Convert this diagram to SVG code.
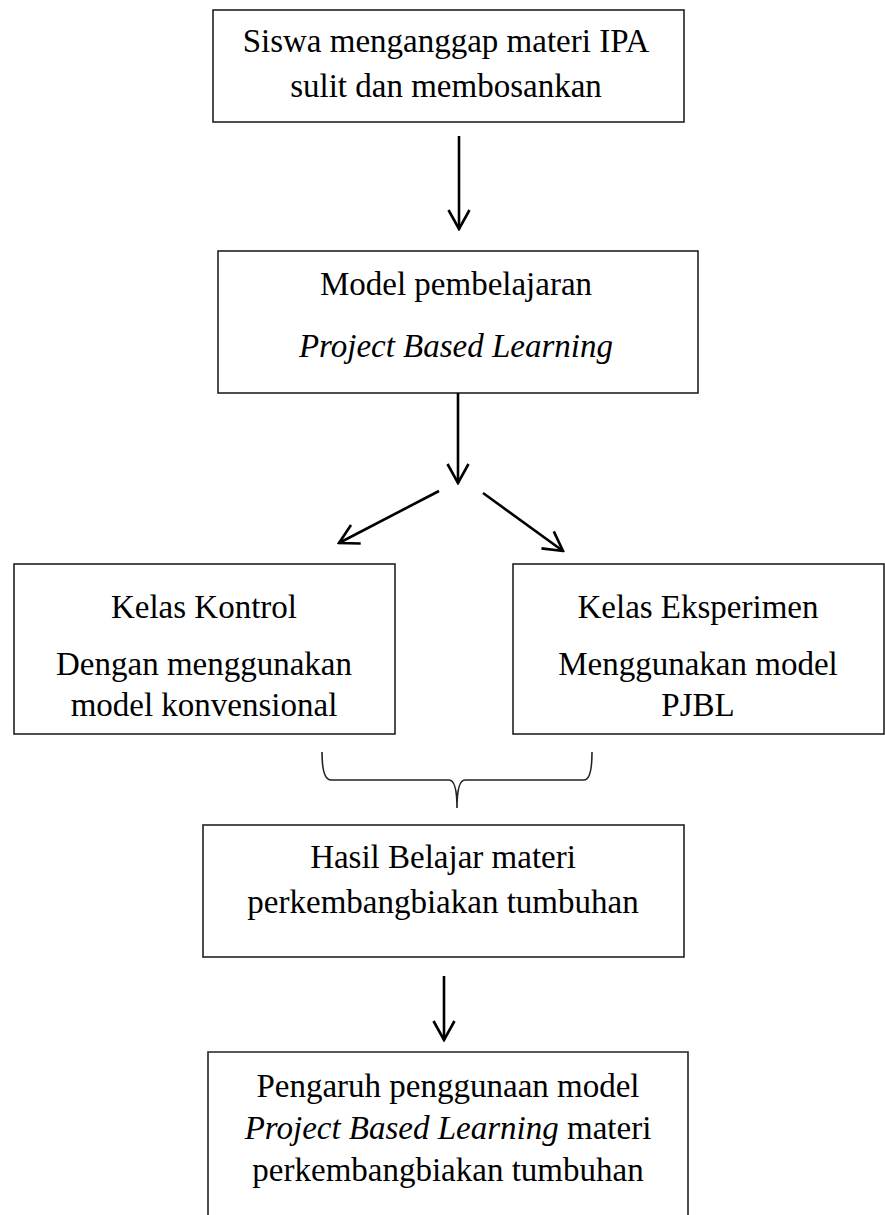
<svg xmlns="http://www.w3.org/2000/svg" width="885" height="1215" viewBox="0 0 885 1215">
<style>
.box{fill:#fff;stroke:#222;stroke-width:1.6}
.t{font-family:"Liberation Serif","Times New Roman",serif;font-size:33px;fill:#000;text-anchor:middle}
.i{font-style:italic}
.c{stroke:#000;stroke-width:2.6;fill:none}
.br{stroke:#222;stroke-width:1.6;fill:none}
</style>
<defs>
<marker id="ah" markerUnits="userSpaceOnUse" viewBox="-22 -13 24 26" refX="0" refY="0" markerWidth="24" markerHeight="26" orient="auto">
<path d="M-19,-10.5 L0,0 L-19,10.5" fill="none" stroke="#000" stroke-width="2.6"/>
</marker>
</defs>
<rect width="885" height="1215" fill="#fff"/>
<g id="n1">
<rect class="box" x="213" y="10" width="471" height="112"/>
<text class="t" x="446" y="52">Siswa menganggap materi IPA</text>
<text class="t" x="446" y="97">sulit dan membosankan</text>
</g>
<g id="n2">
<rect class="box" x="218" y="251" width="480" height="142"/>
<text class="t" x="456" y="295">Model pembelajaran</text>
<text class="t i" x="456" y="357">Project Based Learning</text>
</g>
<g id="n3">
<rect class="box" x="14" y="564" width="381" height="170"/>
<text class="t" x="204" y="618">Kelas Kontrol</text>
<text class="t" x="204" y="675">Dengan menggunakan</text>
<text class="t" x="204" y="716">model konvensional</text>
</g>
<g id="n4">
<rect class="box" x="513" y="564" width="371" height="170"/>
<text class="t" x="698" y="618">Kelas Eksperimen</text>
<text class="t" x="698" y="675">Menggunakan model</text>
<text class="t" x="698" y="716">PJBL</text>
</g>
<g id="n5">
<rect class="box" x="203" y="825" width="481" height="132"/>
<text class="t" x="443" y="868">Hasil Belajar materi</text>
<text class="t" x="443" y="913">perkembangbiakan tumbuhan</text>
</g>
<g id="n6">
<path class="box" d="M208,1216 L208,1052 L688,1052 L688,1216"/>
<text class="t" x="448" y="1097">Pengaruh penggunaan model</text>
<text class="t" x="448" y="1139"><tspan class="i">Project Based Learning</tspan> materi</text>
<text class="t" x="448" y="1181">perkembangbiakan tumbuhan</text>
</g>
<g id="connectors">
<line class="c" x1="459" y1="136" x2="459" y2="229" marker-end="url(#ah)"/>
<line class="c" x1="458" y1="393" x2="458" y2="483" marker-end="url(#ah)"/>
<line class="c" x1="439" y1="491" x2="339" y2="543" marker-end="url(#ah)"/>
<line class="c" x1="483" y1="493" x2="563" y2="551" marker-end="url(#ah)"/>
<path class="br" d="M322,752 Q322,780 331,780 L449,780 Q457,780 457,808 Q457,780 465,780 L584,780 Q592,780 592,752"/>
<line class="c" x1="444" y1="976" x2="444" y2="1040" marker-end="url(#ah)"/>
</g>
</svg>
